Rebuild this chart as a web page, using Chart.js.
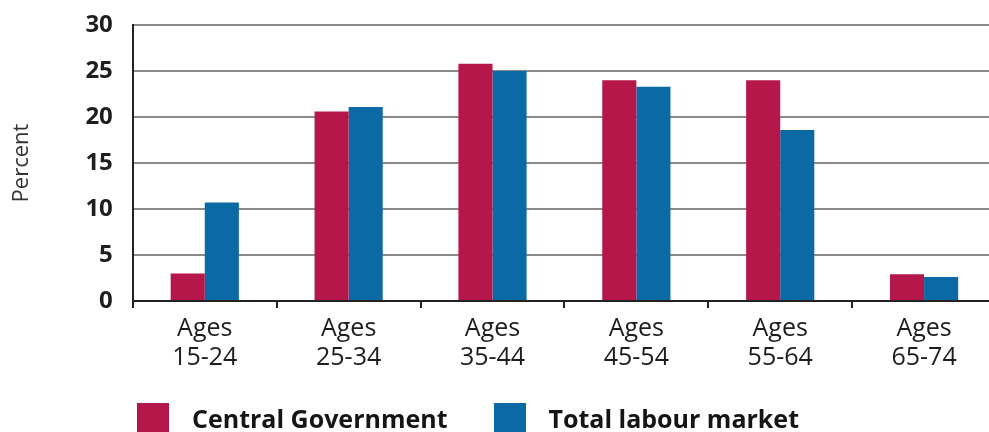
<!DOCTYPE html>
<html>
<head>
<meta charset="utf-8">
<script src="https://cdn.jsdelivr.net/npm/chart.js"></script>
<style>
  html, body { margin: 0; padding: 0; background: #fff; overflow: hidden; }
  #wrap { position: relative; width: 996px; height: 432px; }
  #legend { position: absolute; left: 137px; top: 403px; display: flex; font-family: "Open Sans", sans-serif;
            font-weight: 700; font-size: 25px; color: #151515; line-height: 30px; }
  .item { display: flex; align-items: flex-start; margin-right: 46px; }
  .box { width: 32px; height: 30px; margin-right: 23px; }
</style>
</head>
<body>
<div id="wrap">
  <canvas id="chart" width="996" height="432"></canvas>
  <div id="legend"></div>
</div>
<script>
const categories = [["Ages", "15-24"], ["Ages", "25-34"], ["Ages", "35-44"], ["Ages", "45-54"], ["Ages", "55-64"], ["Ages", "65-74"]];
const seriesNames = ["Central Government", "Total labour market"];
const centralGov = [3.0, 20.6, 25.8, 24.0, 24.0, 2.9];
const totalLabour = [10.7, 21.1, 25.0, 23.3, 18.6, 2.6];
const seriesColors = ["#b5174b", "#0b6aa6"];
const yTicks = [0, 5, 10, 15, 20, 25, 30];

const font = "'Open Sans', 'Noto Sans', sans-serif";

new Chart(document.getElementById("chart").getContext("2d"), {
    type: "bar",
    data: {
        labels: categories,
        datasets: [
            { label: seriesNames[0], data: centralGov, backgroundColor: seriesColors[0] },
            { label: seriesNames[1], data: totalLabour, backgroundColor: seriesColors[1] }
        ]
    },
    options: {
        responsive: false,
        animation: false,
        layout: { padding: { top: 25, bottom: 54, left: 0, right: 0 } },
        datasets: { bar: { categoryPercentage: 0.474, barPercentage: 1.0 } },
        plugins: {
            legend: { display: false },
            tooltip: { enabled: false }
        },
        scales: {
            x: {
                offset: true,
                grid: { offset: true, drawOnChartArea: false, drawTicks: true, tickLength: 7, color: "#222", lineWidth: 2 },
                border: { color: "#222", width: 2 },
                ticks: { color: "#1e1e1e", font: { family: font, size: 25, lineHeight: 1.16 }, padding: 6, maxRotation: 0 }
            },
            y: {
                min: 0,
                max: 30,
                afterBuildTicks: axis => { axis.ticks = yTicks.map(v => ({ value: v })); },
                // tick padding is meant as a horizontal gap only
                afterFit: axis => { axis.paddingTop = 0; axis.paddingBottom = 0; },
                grid: { color: "#8a8a8a", lineWidth: 2, drawTicks: false },
                border: { color: "#222", width: 2 },
                ticks: { color: "#1e1e1e", font: { family: font, size: 24, weight: "bold", lineHeight: 1.0 }, padding: 20 },
                title: {
                    display: true,
                    text: "Percent",
                    color: "#333",
                    font: { family: font, size: 22 },
                    padding: { top: 9, bottom: 30 }
                }
            }
        }
    }
});

// legend built from the series arrays
const legend = document.getElementById("legend");
seriesNames.forEach((name, i) => {
    const item = document.createElement("div");
    item.className = "item";
    const box = document.createElement("div");
    box.className = "box";
    box.style.background = seriesColors[i];
    const txt = document.createElement("span");
    txt.textContent = name;
    item.appendChild(box);
    item.appendChild(txt);
    legend.appendChild(item);
});
</script>
</body>
</html>
